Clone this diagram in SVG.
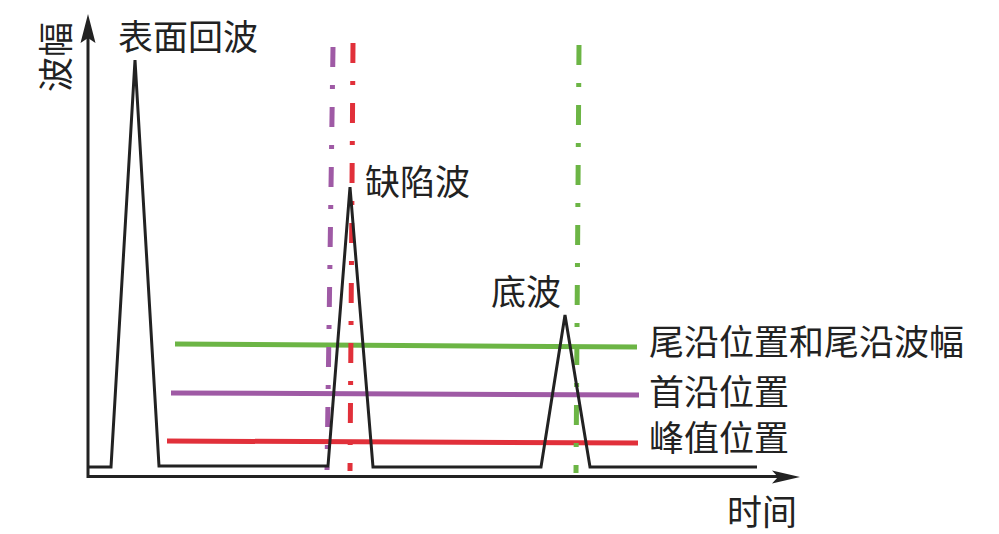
<svg xmlns="http://www.w3.org/2000/svg" width="999" height="534" viewBox="0 0 999 534">
<style>
.t{font-family:"Noto Sans CJK SC","Noto Sans CJK JP",sans-serif;font-size:35px;fill:#222}
.blk{fill:none;stroke:#222;stroke-width:3;stroke-linejoin:miter}
.h{fill:none;stroke-width:5}
.dd{fill:none;stroke-width:5;stroke-dasharray:20 18 4 18}
.g{stroke:#6cb545}
.p{stroke:#9f5aa5}
.r{stroke:#e1303a}
</style>
<rect width="999" height="534" fill="#fff"/>
<g id="axes">
<path class="blk" d="M88,36 V476.5 H780"/>
<polygon points="88,14 95.5,43 88,38 80.5,43" fill="#222"/>
<polygon points="800,477 772,470.5 778,477 772,483.5" fill="#222"/>
<text class="t" transform="translate(57,57) rotate(-90)" x="0" y="12" text-anchor="middle">波幅</text>
<text class="t" x="727" y="525">时间</text>
</g>
<g id="connectors">
<line class="h g" x1="175" y1="344" x2="637" y2="347"/>
<line class="h p" x1="171" y1="393" x2="639" y2="395"/>
<line class="h r" x1="167" y1="441" x2="638" y2="443"/>
<line class="dd p" x1="333" y1="47" x2="327" y2="470"/>
<line class="dd r" x1="353" y1="43" x2="350" y2="471"/>
<line class="dd g" x1="579" y1="45" x2="576" y2="473"/>
</g>
<g id="signal">
<polyline class="blk" points="88,467 111,467 135,60 159,466 328,466 350,187 373,467 541,467 565,315 590,467 757,467"/>
</g>
<g id="surface-echo"><text class="t" x="118" y="50">表面回波</text></g>
<g id="defect-echo"><text class="t" x="365" y="195">缺陷波</text></g>
<g id="bottom-echo"><text class="t" x="491" y="305">底波</text></g>
<g id="label-trail"><text class="t" x="649" y="355">尾沿位置和尾沿波幅</text></g>
<g id="label-lead"><text class="t" x="649" y="405">首沿位置</text></g>
<g id="label-peak"><text class="t" x="649" y="451">峰值位置</text></g>
</svg>
